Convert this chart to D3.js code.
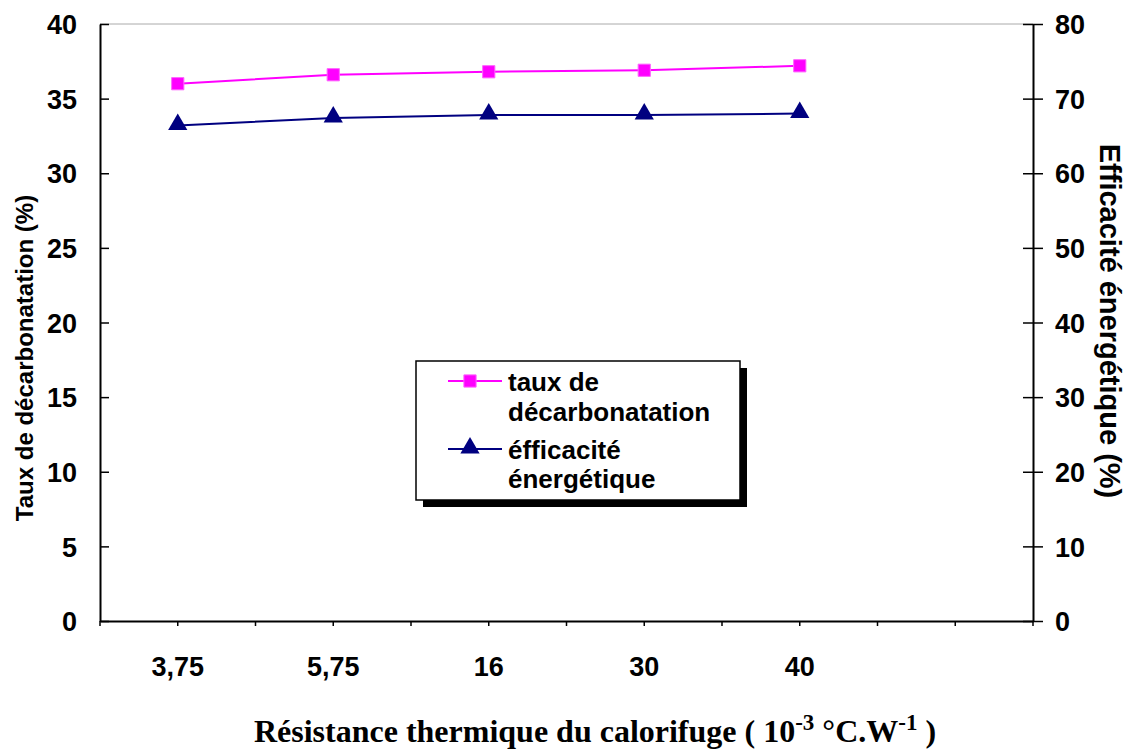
<!DOCTYPE html>
<html>
<head>
<meta charset="utf-8">
<script src="https://cdn.jsdelivr.net/npm/d3@7"></script>
<style>
  body { margin: 0; background: #fff; }
  text { font-family: Arial, "Liberation Sans", sans-serif; font-weight: bold; fill: #000; }
</style>
</head>
<body>
<div id="chart"></div>
<script>
// Data
const categories = ['3,75', '5,75', '16', '30', '40', ''];
const decarbonatation = [36.0, 36.6, 36.8, 36.9, 37.2];
const efficacite = [66.4, 67.4, 67.8, 67.8, 68.0];
const leftTicks = [0, 5, 10, 15, 20, 25, 30, 35, 40];
const rightTicks = [0, 10, 20, 30, 40, 50, 60, 70, 80];

const width = 1129;
const height = 753;
const plotLeft = 100, plotRight = 1033, plotTop = 24, plotBottom = 621;

const svg = d3.select('#chart')
  .append('svg')
  .attr('width', width)
  .attr('height', height);

// Scales
const xScale = d3.scaleBand()
  .domain(categories)
  .range([plotLeft, plotRight])
  .padding(0);

const yLeft = d3.scaleLinear().domain([0, 40]).range([plotBottom, plotTop]);
const yRight = d3.scaleLinear().domain([0, 80]).range([plotBottom, plotTop]);

const cx = d => xScale(d) + xScale.bandwidth() / 2;

// top border of plot area
svg.append('line')
  .attr('x1', plotLeft).attr('x2', plotRight)
  .attr('y1', plotTop).attr('y2', plotTop)
  .attr('stroke', '#aaa').attr('stroke-width', 1);

// x axis
const xAxis = svg.append('g')
  .attr('transform', `translate(0, ${plotBottom})`)
  .call(d3.axisBottom(xScale).tickSize(5).tickSizeOuter(0));
xAxis.select('.domain').attr('stroke', '#000').attr('stroke-width', 2);
xAxis.selectAll('.tick line').attr('stroke-width', 1.5);
xAxis.selectAll('.tick text')
  .attr('dy', null)
  .attr('y', 55)
  .style('font-size', '27px')
  .style('font-family', 'Arial, "Liberation Sans", sans-serif');

// boundary ticks between categories
const bounds = categories.map(d => xScale(d)).concat([xScale(categories[categories.length - 1]) + xScale.bandwidth()]);
svg.append('g')
  .selectAll('line')
  .data(bounds)
  .enter()
  .append('line')
  .attr('x1', d => d).attr('x2', d => d)
  .attr('y1', plotBottom).attr('y2', plotBottom + 5)
  .attr('stroke', '#000').attr('stroke-width', 1.5);

// left axis
const yAxisL = svg.append('g')
  .attr('transform', `translate(${plotLeft}, 0)`)
  .call(d3.axisLeft(yLeft).tickValues(leftTicks).tickSize(9).tickSizeOuter(0));
yAxisL.select('.domain').attr('stroke', '#000').attr('stroke-width', 2);
yAxisL.selectAll('.tick line').attr('x2', 9).attr('stroke-width', 1.5);
yAxisL.selectAll('.tick text')
  .attr('x', -23)
  .attr('dy', '0.36em')
  .style('font-size', '27px')
  .style('font-family', 'Arial, "Liberation Sans", sans-serif');

// right axis
const yAxisR = svg.append('g')
  .attr('transform', `translate(${plotRight}, 0)`)
  .call(d3.axisRight(yRight).tickValues(rightTicks).tickSize(10).tickSizeOuter(0));
yAxisR.select('.domain').attr('stroke', '#000').attr('stroke-width', 2);
yAxisR.selectAll('.tick line').attr('x1', -10).attr('stroke-width', 1.5);
yAxisR.selectAll('.tick text')
  .attr('x', 22)
  .attr('dy', '0.36em')
  .style('font-size', '27px')
  .style('font-family', 'Arial, "Liberation Sans", sans-serif');

// series
const pts1 = decarbonatation.map((v, i) => ({ c: categories[i], v: v }));
const pts2 = efficacite.map((v, i) => ({ c: categories[i], v: v }));

svg.append('path')
  .datum(pts1)
  .attr('fill', 'none')
  .attr('stroke', '#ff00ff')
  .attr('stroke-width', 2)
  .attr('d', d3.line().x(d => cx(d.c)).y(d => yLeft(d.v)));

svg.append('path')
  .datum(pts2)
  .attr('fill', 'none')
  .attr('stroke', '#000080')
  .attr('stroke-width', 2)
  .attr('d', d3.line().x(d => cx(d.c)).y(d => yRight(d.v)));

const square = d3.symbol().type(d3.symbolSquare).size(150);
const triangle = d3.symbol().type(d3.symbolTriangle).size(160);

svg.selectAll('.sq')
  .data(pts1)
  .enter()
  .append('path')
  .attr('class', 'sq')
  .attr('transform', d => `translate(${cx(d.c)}, ${yLeft(d.v)})`)
  .attr('d', square)
  .attr('fill', '#ff00ff')
  .attr('stroke', '#ff66ff')
  .attr('stroke-width', 1);

svg.selectAll('.tri')
  .data(pts2)
  .enter()
  .append('path')
  .attr('class', 'tri')
  .attr('transform', d => `translate(${cx(d.c)}, ${yRight(d.v) - 1})`)
  .attr('d', triangle)
  .attr('fill', '#000080');

// legend
const lg = svg.append('g');
lg.append('rect')
  .attr('x', 423).attr('y', 368).attr('width', 324).attr('height', 139)
  .attr('fill', '#000');
lg.append('rect')
  .attr('x', 416).attr('y', 361).attr('width', 324).attr('height', 139)
  .attr('fill', '#fff').attr('stroke', '#000').attr('stroke-width', 1.5);

lg.append('line')
  .attr('x1', 448).attr('x2', 502).attr('y1', 381).attr('y2', 381)
  .attr('stroke', '#ff00ff').attr('stroke-width', 2);
lg.append('path')
  .attr('transform', 'translate(470, 381)')
  .attr('d', square)
  .attr('fill', '#ff00ff').attr('stroke', '#ff66ff');
lg.append('line')
  .attr('x1', 448).attr('x2', 502).attr('y1', 449).attr('y2', 449)
  .attr('stroke', '#000080').attr('stroke-width', 2);
lg.append('path')
  .attr('transform', 'translate(470, 448)')
  .attr('d', triangle)
  .attr('fill', '#000080');

const legendLines = [
  { t: 'taux de', y: 391 },
  { t: 'décarbonatation', y: 421 },
  { t: 'éfficacité', y: 459 },
  { t: 'énergétique', y: 488 }
];
lg.selectAll('.lt')
  .data(legendLines)
  .enter()
  .append('text')
  .attr('x', 508)
  .attr('y', d => d.y)
  .style('font-size', '26px')
  .text(d => d.t);

// axis titles
svg.append('text')
  .attr('transform', 'translate(33, 358) rotate(-90)')
  .attr('text-anchor', 'middle')
  .style('font-size', '24px')
  .text('Taux de décarbonatation (%)');

svg.append('text')
  .attr('transform', 'translate(1100, 321) rotate(90)')
  .attr('text-anchor', 'middle')
  .style('font-size', '29px')
  .text('Efficacité énergétique (%)');

const xt = svg.append('text')
  .attr('x', 595)
  .attr('y', 742)
  .attr('text-anchor', 'middle')
  .style('font-family', '"Liberation Serif", "Times New Roman", serif')
  .style('font-size', '32px');
xt.append('tspan').text('Résistance thermique du calorifuge ( 10');
xt.append('tspan').attr('dy', -12).style('font-size', '23px').text('-3');
xt.append('tspan').attr('dy', 12).text(' °C.W');
xt.append('tspan').attr('dy', -12).style('font-size', '23px').text('-1');
xt.append('tspan').attr('dy', 12).text(' )');
</script>
</body>
</html>
